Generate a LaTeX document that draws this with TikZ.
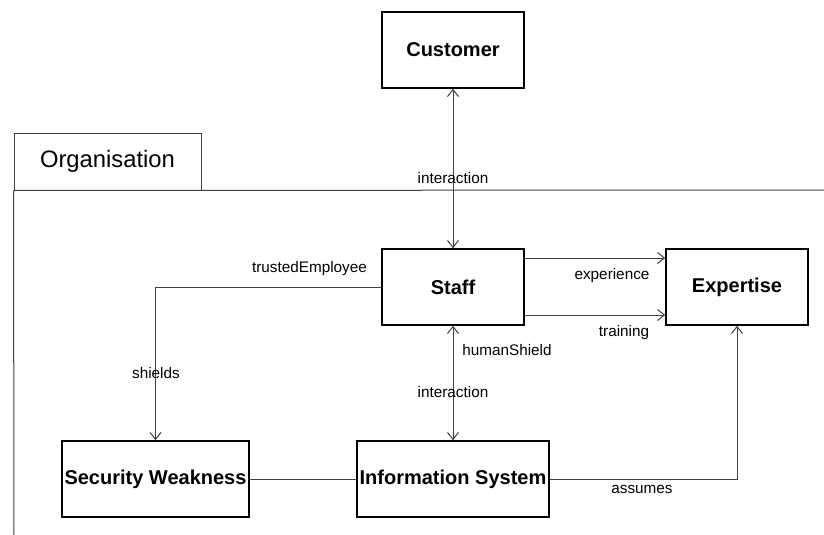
\documentclass[tikz,border=0pt]{standalone}
\usepackage{fontspec}
\setmainfont{Liberation Sans}
\usepackage{tikz}
\usetikzlibrary{arrows.meta, positioning, calc}
\definecolor{cLine}{RGB}{64,64,64}
\tikzset{
	classbox/.style={rectangle, draw=black, line width=1.5pt, minimum height=76pt, text centered, align=center, inner sep=1pt, font=\fontsize{20}{24}\selectfont\bfseries},
	assoc/.style={draw=cLine, line width=1pt},
	assocarrow/.style={assoc, -{Straight Barb[length=7pt, width=11pt]}},
	bothways/.style={assoc, {Straight Barb[length=7pt, width=11pt]}-{Straight Barb[length=7pt, width=11pt]}},
	rolelabel/.style={font=\fontsize{15.3}{18}\selectfont, inner sep=0pt},
	% package frame
	pkgtab/.style={rectangle, draw=cLine, line width=1pt, minimum width=187pt, minimum height=57pt, font=\fontsize{23.8}{28}\selectfont},
}
\begin{document}
\begin{tikzpicture}[x=1pt, y=-1pt]
	\useasboundingbox (0,0) rectangle (824,535);
	% organisation package
	\node[pkgtab] (org) at (107.5,161.5) {Organisation};
	\coordinate (orgEnd) at (824,190);
	\coordinate (orgFoot) at (14,535);
	\draw[assoc] (org.south west) -- (orgEnd);
	\draw[assoc] (org.south west) -- (orgFoot);
	% classes
	\node[classbox, minimum width=142pt] (cust) at (453,50) {Customer};
	\node[classbox, minimum width=142pt] (staff) at (453,287) {Staff};
	\node[classbox, minimum width=142pt] (exp) at (737,287) {Expertise};
	\node[classbox, minimum width=187pt] (weak) at (155.5,479) {Security Weakness};
	\node[classbox, minimum width=192pt] (infosys) at (453,479) {Information System};
	% associations
	\draw[bothways] (cust.south) -- (staff.north);
	\draw[bothways] (staff.south) -- (infosys.north);
	\draw[assocarrow] (staff.west) -| (weak.north);
	\draw[assocarrow] ([yshift=29pt]staff.east) -- ([yshift=29pt]exp.west);
	\draw[assocarrow] ([yshift=-28pt]staff.east) -- ([yshift=-28pt]exp.west);
	\draw[assocarrow] (infosys.east) -| (exp.south);
	\draw[assoc] (weak.east) -- (infosys.west);
	% role names
	\node[rolelabel] (lInter1) at (453,178) {interaction};
	\node[rolelabel] (lTrust) at (309.5,269) {trustedEmployee};
	\node[rolelabel] (lShield) at (156,373) {shields};
	\node[rolelabel] (lExper) at (612,276) {experience};
	\node[rolelabel] (lTrain) at (624,333) {training};
	\node[rolelabel] (lHuman) at (507,350) {humanShield};
	\node[rolelabel] (lInter2) at (453,392) {interaction};
	\node[rolelabel] (lAssume) at (642,489) {assumes};
\end{tikzpicture}
\end{document}
